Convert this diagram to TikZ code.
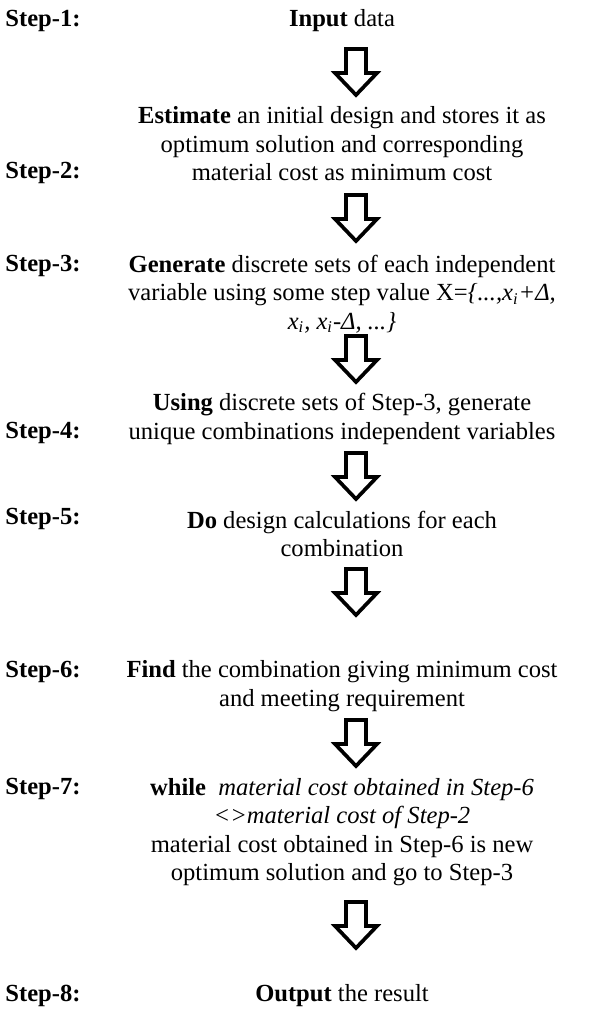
\documentclass[tikz,border=0pt]{standalone}
\usepackage{fontspec}
\setmainfont{Liberation Serif}
\usetikzlibrary{positioning}
\tikzset{
  steptext/.style={
    align=center,
    inner sep=0pt,
    font=\fontsize{12pt}{13.9pt}\selectfont,
  },
  steplabel/.style={
    anchor=west,
    inner sep=0pt,
    font=\fontsize{12pt}{13.9pt}\selectfont\bfseries,
  },
  fatarrow/.style={draw=black, fill=white, line width=1.8pt, line join=miter},
}

\begin{document}
\begin{tikzpicture}[x=0.488pt, y=-0.488pt]
  \useasboundingbox (0,0) rectangle (603,1013);

  % step texts
  \node[steptext] (s1) at (342,21) {\textbf{Input} data};
  \node[steptext] (s2) at (342,144) {\textbf{Estimate} an initial design and stores it as\\
    optimum solution and corresponding\\
    material cost as minimum cost};
  \node[steptext] (s3) at (342,294) {\textbf{Generate} discrete sets of each independent\\
    variable using some step value X=\textit{\{...,x\textsubscript{i}+Δ,}\\
    \textit{x\textsubscript{i}, x\textsubscript{i}-Δ, ...\}}};
  \node[steptext] (s4) at (342,419) {\textbf{Using} discrete sets of Step-3, generate\\
    unique combinations independent variables};
  \node[steptext] (s5) at (342,534) {\textbf{Do} design calculations for each\\
    combination};
  \node[steptext] (s6) at (342,686) {\textbf{Find} the combination giving minimum cost\\
    and meeting requirement};
  \node[steptext] (s7) at (342,832) {\textbf{while}\ \ \textit{material cost obtained in Step-6}\\
    \textit{<>material cost of Step-2}\\
    material cost obtained in Step-6 is new\\
    optimum solution and go to Step-3};
  \node[steptext] (s8) at (342,996) {\textbf{Output} the result};

  % step labels
  \foreach \n/\y in {1/21, 2/173, 3/266, 4/433, 5/519, 6/672, 7/789, 8/996} {
    \node[steplabel] (l\n) at (5,\y) {Step-\n:};
  }

  % block arrows between the steps
  \foreach \n/\y in {1/49, 2/195, 3/336, 4/453, 5/569, 6/720, 7/902} {
    \coordinate (a\n) at (356,\y);
    \draw[fatarrow] (a\n) ++(-10,0) -- ++(20,0) -- ++(0,24) -- ++(11,0)
      -- ++(-21,22) -- ++(-21,-22) -- ++(11,0) -- cycle;
  }
\end{tikzpicture}
\end{document}
